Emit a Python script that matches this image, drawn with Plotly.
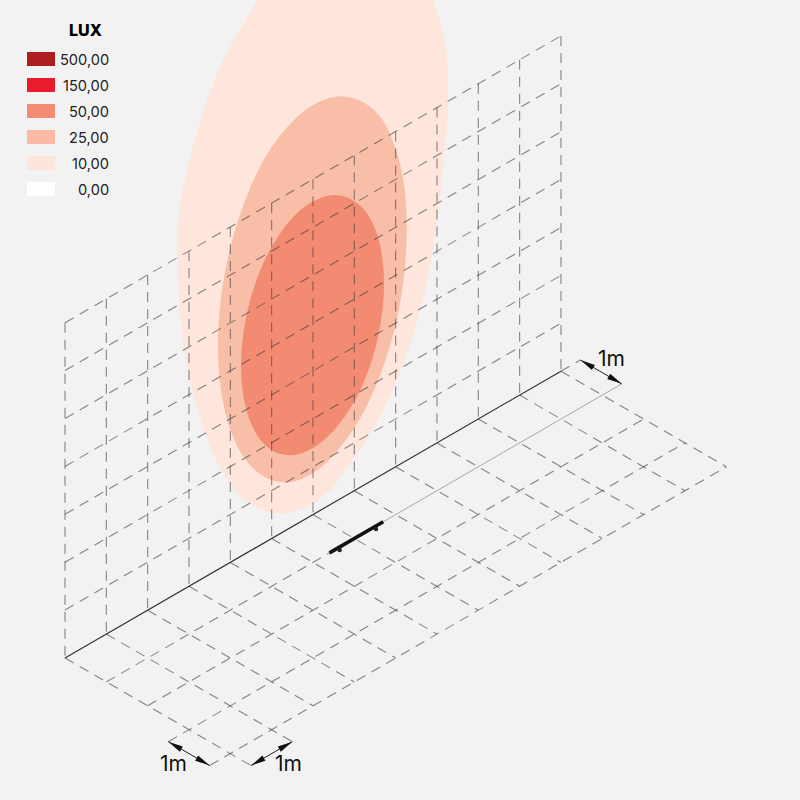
import math
import plotly.graph_objects as go

# ---------- data (metres) ----------
legend_labels = ["500,00", "150,00", "50,00", "25,00", "10,00", "0,00"]
legend_colors = ["#ab1d1f", "#e91b2d", "#f48b74", "#fbbaa5", "#fee5dc", "#ffffff"]
contour_colors = ["#fee6dd", "#f9bea8", "#f38b73"]

wall_columns = list(range(13))      # metres along the wall
wall_rows = list(range(1, 8))       # metres of height
floor_rows = list(range(0, 5))      # metres of depth

lux10_x = [7.09, 8.11, 8.83, 9.22, 9.27, 9.19, 9.07, 8.90, 8.66, 8.30, 7.82, 7.33, 6.90, 6.41, 5.76, 5.13,
           4.40, 3.92, 3.51, 3.17, 2.90, 2.76, 2.71, 2.78, 2.95, 3.19, 3.48, 3.80, 4.23, 4.67, 5.32, 6.12]
lux10_z = [11.43, 10.63, 9.48, 8.09, 6.96, 6.02, 5.03, 4.08, 3.15, 2.29, 1.49, 0.96, 0.61, 0.31, 0.24, 0.45,
           1.06, 1.78, 2.67, 3.72, 4.90, 6.16, 7.48, 8.07, 8.71, 9.37, 10.02, 10.54, 11.00, 11.41, 11.71, 11.73]
lux25_x = [8.27, 8.20, 7.97, 7.61, 7.13, 6.58, 5.99, 5.40, 4.85, 4.38, 4.01, 3.78,
           3.70, 3.78, 4.01, 4.37, 4.85, 5.39, 5.99, 6.57, 7.13, 7.60, 7.97, 8.19]
lux25_z = [4.81, 5.81, 6.73, 7.52, 8.08, 8.44, 8.55, 8.41, 8.04, 7.42, 6.60, 5.67,
           4.66, 3.67, 2.74, 1.96, 1.35, 0.98, 0.87, 1.03, 1.43, 2.06, 2.87, 3.81]
lux50_x = [7.72, 7.66, 7.49, 7.21, 6.85, 6.44, 5.99, 5.54, 5.12, 4.76, 4.49, 4.32,
           4.26, 4.32, 4.49, 4.77, 5.12, 5.55, 5.99, 6.44, 6.85, 7.22, 7.49, 7.66]
lux50_z = [3.96, 4.63, 5.25, 5.79, 6.19, 6.45, 6.54, 6.46, 6.20, 5.80, 5.26, 4.64,
           3.97, 3.30, 2.68, 2.13, 1.73, 1.47, 1.39, 1.48, 1.73, 2.14, 2.67, 3.30]

fixture_start, fixture_end = 5.4, 6.7
fixture_feet = [5.62, 6.5]

# ---------- projection ----------
OX, OY, SX, SY, SZ = 65.0, 658.0, 41.33, 23.9, 47.9
BG = "#f2f2f2"
DASH = "rgba(60,60,60,0.6)"


def wall(x, z):
    return OX + SX * x, OY - SY * x - SZ * z


def floor(x, d):
    return OX + SX * (x + d), OY - SY * x + SY * d


def polyline(segments):
    xs, ys = [], []
    for a, b in segments:
        xs += [a[0], b[0], None]
        ys += [a[1], b[1], None]
    return xs, ys


fig = go.Figure()


def closed(xm, zm, color):
    pts = [wall(x, z) for x, z in zip(xm, zm)]
    pts.append(pts[0])
    fig.add_trace(go.Scatter(x=[p[0] for p in pts], y=[p[1] for p in pts], mode="lines",
                             line=dict(width=0, shape="spline", smoothing=1, color=color),
                             fill="toself", fillcolor=color, hoverinfo="skip"))


closed(lux10_x, lux10_z, contour_colors[0])
closed(lux25_x, lux25_z, contour_colors[1])
closed(lux50_x, lux50_z, contour_colors[2])

# dashed grid
top = wall_rows[-1]
last = wall_columns[-1]
depth = floor_rows[-1]
segs = []
for x in wall_columns:
    segs.append((wall(x, top), wall(x, 0)))
for z in wall_rows:
    segs.append((wall(0, z), wall(last, z)))
for x in wall_columns:
    d_end = depth + 0.5 if x in (0, 1) else depth
    segs.append((floor(x, 0), floor(x, d_end)))
for d in floor_rows[1:]:
    x0 = -0.5 if d in (3, 4) else 0
    x1 = fixture_end if d == 1 else last
    segs.append((floor(x0, d), floor(x1, d)))
segs.append((floor(last, 0), floor(last + 0.47, 0)))
xs, ys = polyline(segs)
fig.add_trace(go.Scatter(x=xs, y=ys, mode="lines", hoverinfo="skip",
                         line=dict(color=DASH, width=1.1, dash="10px,7px")))

# solid lines
xs, ys = polyline([(floor(0, 0), floor(last, 0))])
fig.add_trace(go.Scatter(x=xs, y=ys, mode="lines", hoverinfo="skip", line=dict(color="#333333", width=1.2)))
xs, ys = polyline([(floor(fixture_end, 1), floor(last + 0.47, 1))])
fig.add_trace(go.Scatter(x=xs, y=ys, mode="lines", hoverinfo="skip", line=dict(color="#a8a8a8", width=1)))

# fixture
xs, ys = polyline([(floor(fixture_start, 1), floor(fixture_end, 1))])
fig.add_trace(go.Scatter(x=xs, y=ys, mode="lines", hoverinfo="skip", line=dict(color="#111111", width=3.6)))
feet = [floor(f, 1) for f in fixture_feet]
fig.add_trace(go.Scatter(x=[p[0] + 1 for p in feet], y=[p[1] + 2.5 for p in feet], mode="markers", hoverinfo="skip",
                         marker=dict(color="#222222", size=4.5, line=dict(width=0))))

# dimension arrows
dims = [(floor(last + 0.47, 0), floor(last + 0.47, 1)),
        (floor(-0.5, 3), floor(-0.5, 4)),
        (floor(0, 4.5), floor(1, 4.5))]
for a, b in dims:
    fig.add_trace(go.Scatter(x=[a[0], b[0]], y=[a[1], b[1]], mode="lines", hoverinfo="skip",
                             line=dict(color="#222222", width=1)))
    L = math.hypot(b[0] - a[0], b[1] - a[1])
    ux, uy = (b[0] - a[0]) / L, (b[1] - a[1]) / L
    for tip, s in ((a, 1), (b, -1)):
        bx, by = tip[0] + s * 15 * ux, tip[1] + s * 15 * uy
        fig.add_trace(go.Scatter(
            x=[tip[0], bx - 3 * uy, bx + 3 * uy, tip[0]],
            y=[tip[1], by + 3 * ux, by - 3 * ux, tip[1]],
            mode="lines", line=dict(width=0, color="#111111"), fill="toself",
            fillcolor="#111111", hoverinfo="skip"))

shapes = []
annotations = []
for i, (lab, col) in enumerate(zip(legend_labels, legend_colors)):
    cy = 59 + 26 * i
    shapes.append(dict(type="rect", xref="x", yref="y", x0=27, x1=55, y0=cy - 7, y1=cy + 7,
                       fillcolor=col, line=dict(width=0)))
    annotations.append(dict(x=111, y=cy + 0.6, xref="x", yref="y", text=lab, showarrow=False,
                            xanchor="right", yanchor="middle",
                            font=dict(family="Inter", size=14.6, color="#222222")))
annotations.append(dict(x=85, y=30, xref="x", yref="y", text="LUX", showarrow=False,
                        xanchor="center", yanchor="middle",
                        font=dict(family="Inter", size=16, weight=800, color="#000000")))
for tx, ty in ((611, 358), (173, 763), (288, 763)):
    annotations.append(dict(x=tx, y=ty, xref="x", yref="y", text="1m", showarrow=False,
                            xanchor="center", yanchor="middle",
                            font=dict(family="Inter", size=21, color="#111111")))

fig.update_layout(
    width=800, height=800, margin=dict(l=0, r=0, t=0, b=0),
    paper_bgcolor=BG, plot_bgcolor=BG, showlegend=False,
    xaxis=dict(range=[0, 800], visible=False, fixedrange=True),
    yaxis=dict(range=[800, 0], visible=False, fixedrange=True),
    shapes=shapes, annotations=annotations,
)
fig.write_html("out.html", config={"displayModeBar": False},
               post_script="document.body.style.margin='0';document.body.style.background='#f2f2f2';")
